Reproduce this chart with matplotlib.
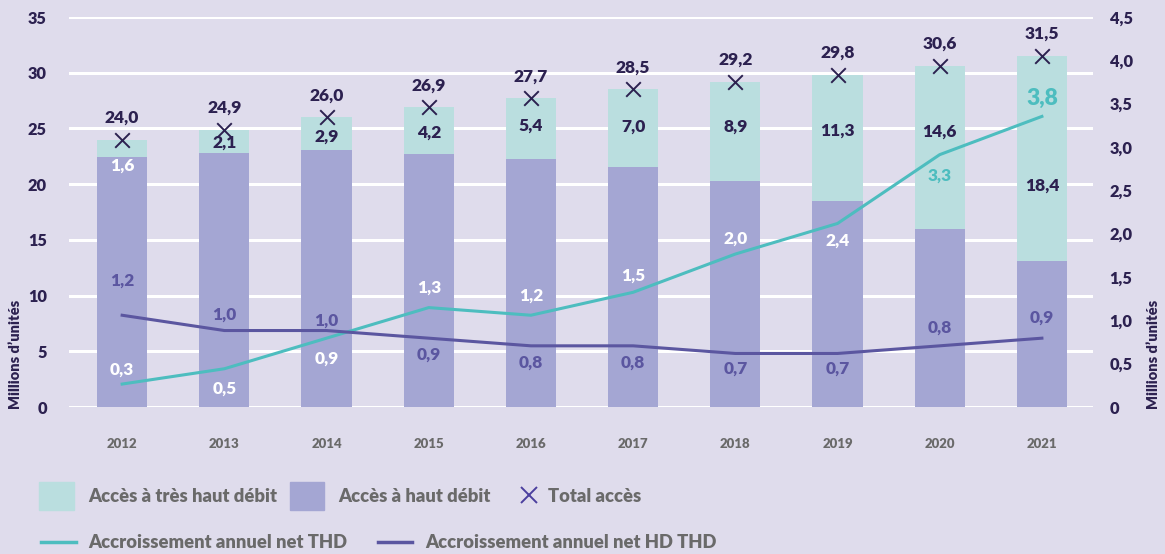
import numpy as np
import matplotlib.pyplot as plt
from matplotlib.patches import Patch
from matplotlib.lines import Line2D

plt.rcParams['font.family'] = ['Lato', 'DejaVu Sans']
plt.rcParams['font.weight'] = 'heavy'

# Data (millions d'unités)
years = ['2012', '2013', '2014', '2015', '2016', '2017', '2018', '2019', '2020', '2021']
total = [24.0, 24.9, 26.0, 26.9, 27.7, 28.5, 29.2, 29.8, 30.6, 31.5]
thd = [1.6, 2.1, 2.9, 4.2, 5.4, 7.0, 8.9, 11.3, 14.6, 18.4]
hd = [round(t - v, 1) for t, v in zip(total, thd)]
growth_thd = [0.3, 0.5, 0.9, 1.3, 1.2, 1.5, 2.0, 2.4, 3.3, 3.8]
growth_hd_thd = [1.2, 1.0, 1.0, 0.9, 0.8, 0.8, 0.7, 0.7, 0.8, 0.9]

# label placement (pixel offsets)
thd_lab_dy = [-26, -13, -19, -25, -27, -37, -45, -56, -66, -130]
g_thd_dy = [14, -20, -21, 20, 20, 17, 15, -17, -21, 18]
g_hd_dy = [35, 16, 10, -17, -17, -17, -15, -15, 18, 20]

bg = '#dfdcec'
c_hd = '#a4a6d3'
c_thd = '#badedf'
c_teal = '#4dbdbf'
c_purple = '#5b56a0'
navy = '#2c2150'
gray = '#6a6a6a'

fig = plt.figure(figsize=(11.65, 5.54), dpi=100, facecolor=bg)
ax = fig.add_axes([69 / 1165, 1 - 407 / 554, 1024 / 1165, 390 / 554])
ax.set_facecolor(bg)

x = np.arange(len(years))
w = 0.49
ax.bar(x, hd, width=w, color=c_hd, zorder=2)
ax.bar(x, thd, width=w, bottom=hd, color=c_thd, zorder=2)
ax.scatter(x, total, marker='x', s=110, color=navy, linewidths=1.4, zorder=4)

ax.set_xlim(-0.52, 9.5)
ax.set_ylim(0, 35)
ax.set_yticks(range(0, 36, 5))
ax.yaxis.grid(True, color='white', lw=2.2)
ax.set_axisbelow(True)
for s in ax.spines.values():
    s.set_visible(False)
ax.set_xticks(x, years)
ax.tick_params(axis='x', length=0, pad=22, labelsize=9.5, labelcolor=gray)
ax.tick_params(axis='y', length=0, pad=16, labelsize=11.8, labelcolor=navy)


def fr(v):
    return f'{v:.1f}'.replace('.', ',')


# totals above bars
for i, t in enumerate(total):
    ax.annotate(fr(t), (i, t), xytext=(0, 22), textcoords='offset pixels',
                ha='center', va='center', fontsize=12.5, color=navy)
# THD values
for i, (t, v) in enumerate(zip(total, thd)):
    ax.annotate(fr(v), (i, t), xytext=(0, thd_lab_dy[i]), textcoords='offset pixels',
                ha='center', va='center', fontsize=12.5,
                color='white' if i == 0 else navy)

# right axis
ax_r = ax.twinx()
ax_r.set_ylim(0, 4.5)
rt = np.arange(0, 4.51, 0.5)
ax_r.set_yticks(rt, ['0'] + [fr(v) for v in rt[1:]])
ax_r.tick_params(axis='y', length=0, pad=12, labelsize=11.8, labelcolor=navy)
for s in ax_r.spines.values():
    s.set_visible(False)

# growth lines
ax_l = ax.twinx()
ax_l.set_ylim(0, 5.1)
ax_l.axis('off')
ax_l.plot(x, growth_thd, color=c_teal, lw=2.2, zorder=5)
ax_l.plot(x, growth_hd_thd, color=c_purple, lw=2.2, zorder=5)
for i, v in enumerate(growth_thd):
    ax_l.annotate(fr(v), (i, v), xytext=(0, g_thd_dy[i]), textcoords='offset pixels',
                  ha='center', va='center', fontsize=16.5 if i == 9 else 12.4,
                  color=c_teal if i >= 8 else 'white')
for i, v in enumerate(growth_hd_thd):
    ax_l.annotate(fr(v), (i, v), xytext=(0, g_hd_dy[i]), textcoords='offset pixels',
                  ha='center', va='center', fontsize=12.4, color=c_purple)

fig.text(16 / 1165, 1 - 354 / 554, 'Millions d\u2019unités', rotation=90,
         ha='center', va='center', fontsize=10.5, color=navy)
fig.text(1153 / 1165, 1 - 354 / 554, 'Millions d\u2019unités', rotation=90,
         ha='center', va='center', fontsize=10.5, color=navy)

# legends
lkw = dict(frameon=False, borderpad=0, borderaxespad=0, fontsize=13.2, labelcolor=gray)
fig.legend([Patch(color=c_thd), Patch(color=c_hd)],
           ['Accès à très haut débit', 'Accès à haut débit'],
           loc='center left', bbox_to_anchor=(39 / 1165, 1 - 496 / 554), ncol=2,
           handlelength=1.9, handleheight=1.9, handletextpad=0.76,
           columnspacing=0.7, **lkw)
fig.legend([Line2D([], [], marker='x', ls='none', color='#4b3f9e', markersize=11, mew=1.4)],
           ['Total accès'], loc='center left', bbox_to_anchor=(520 / 1165, 1 - 496 / 554),
           handlelength=1.0, handletextpad=0.54, **lkw)
fig.legend([Line2D([], [], color=c_teal, lw=2.5), Line2D([], [], color=c_purple, lw=2.5)],
           ['Accroissement annuel net THD', 'Accroissement annuel net HD THD'],
           loc='center left', bbox_to_anchor=(41 / 1165, 1 - 543 / 554), ncol=2,
           handlelength=1.9, handletextpad=0.7, columnspacing=1.63, **lkw)

fig.savefig('out.png', dpi=100, facecolor=bg)
